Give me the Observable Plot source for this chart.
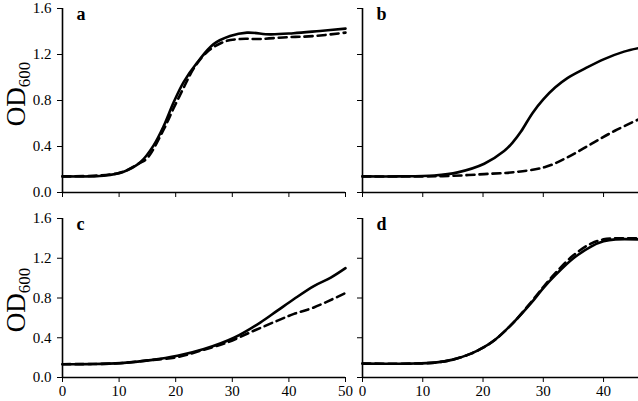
<!DOCTYPE html>
<html><head><meta charset="utf-8">
<script src="https://cdn.jsdelivr.net/npm/d3@7"></script>
<script src="https://cdn.jsdelivr.net/npm/@observablehq/plot@0.6"></script>
<style>
body{margin:0;background:#fff;}
#root{position:relative;width:638px;height:401px;overflow:hidden;font-family:"Liberation Serif",serif;background:#fff;}
.p{position:absolute;}
.ylab{position:absolute;font-size:27px;transform:rotate(-90deg);white-space:nowrap;line-height:1;}
.ylab sub{font-size:17px;vertical-align:-5px;}
</style></head><body><div id="root"></div>
<script>
// y ticks
const yTicks = [0, 0.4, 0.8, 1.2, 1.6];
const xTicksLeft = [0, 10, 20, 30, 40, 50];
const xTicksRight = [0, 10, 20, 30, 40];

// Panel a
const aSolidT = [0,5,7.3,10.8,13.8,16.1,17.9,19.6,21.4,23.8,26.7,29.6,32.6,36.7,40.8,45.5,50];
const aSolidOD = [0.14,0.14,0.145,0.18,0.265,0.41,0.58,0.78,0.96,1.13,1.29,1.36,1.39,1.375,1.385,1.405,1.425];
const aDashT = [0,10,13.8,15,17.9,19.6,21.4,23.2,25.5,28.5,31.4,34.9,39.6,44.3,50];
const aDashOD = [0.14,0.17,0.26,0.30,0.55,0.73,0.91,1.08,1.22,1.31,1.335,1.335,1.35,1.36,1.39];

// Panel b
const bSolidT = [0,6,11.9,15.8,20.2,23.5,25,26.3,28.2,30,32,34,36.8,40.1,43.4,45.8];
const bSolidOD = [0.14,0.14,0.148,0.175,0.25,0.36,0.44,0.53,0.69,0.81,0.915,0.995,1.075,1.16,1.225,1.255];
const bDashT = [0,10,15,20.2,25.2,30.2,34,37.9,41.8,45.8];
const bDashOD = [0.14,0.14,0.145,0.16,0.177,0.22,0.305,0.42,0.535,0.635];

// Panel c
const cSolidT = [0,5,10.3,15.6,20.3,25,30.3,35,37.9,40.9,44.4,47.4,50];
const cSolidOD = [0.134,0.135,0.145,0.175,0.218,0.286,0.40,0.555,0.67,0.79,0.92,1.005,1.1];
const cDashT = [0,10,15,20.3,24.4,29.1,33.8,37.9,40.9,44.4,50];
const cDashOD = [0.134,0.143,0.172,0.205,0.27,0.353,0.47,0.57,0.64,0.705,0.85];

// Panel d
const dSolidT = [0,8,12,15,18,20,22,25,28,30,32,35,38,40,42,45.8];
const dSolidOD = [0.14,0.14,0.15,0.18,0.24,0.30,0.38,0.55,0.75,0.90,1.03,1.20,1.32,1.37,1.39,1.39];
const dDashT = [0,8,12,15,18,20,22,25,28,30,32,35,38,40,42,45.8];
const dDashOD = [0.14,0.14,0.15,0.18,0.24,0.30,0.38,0.55,0.76,0.91,1.05,1.23,1.35,1.39,1.40,1.40];

const letters = ["a", "b", "c", "d"];

const toRows = (t, v) => t.map((x, i) => ({t: x, od: v[i]}));

function panel(o) {
  const svg = Plot.plot({
    width: o.width, height: o.height,
    marginLeft: o.mL, marginRight: o.mR, marginTop: o.mT, marginBottom: o.mB,
    style: {fontFamily: "'Liberation Serif', serif", fontSize: "15px", color: "#000", background: "transparent", overflow: "visible"},
    x: {domain: [0, o.xMax], ticks: o.xTicks, tickSize: 5, tickPadding: 3, label: null,
        tickFormat: o.showX ? (d => String(d)) : (() => "")},
    y: {domain: [0, 1.6], ticks: yTicks, tickSize: 5, tickPadding: 6, label: null,
        tickFormat: o.showY ? (d => d.toFixed(1)) : (() => "")},
    marks: [
      Plot.ruleY([0], {stroke: "#000", strokeWidth: 1.6}),
      Plot.ruleX([0], {stroke: "#000", strokeWidth: 1.6}),
      Plot.line(toRows(o.st, o.sv), {x: "t", y: "od", curve: "catmull-rom", stroke: "#000", strokeWidth: 2.6}),
      Plot.line(toRows(o.dt, o.dv), {x: "t", y: "od", curve: "catmull-rom", stroke: "#000", strokeWidth: 2.6, strokeDasharray: "8,5"}),
      Plot.text([o.letter], {text: d => d, frameAnchor: "top-left", dx: 14, dy: -1, fontWeight: "bold", fontSize: 18})
    ]
  });
  svg.classList.add("p");
  svg.style.left = o.left + "px";
  svg.style.top = o.top + "px";
  document.getElementById("root").appendChild(svg);
}

panel({left: 0, top: 0, width: 350, height: 200, mL: 62, mR: 5, mT: 8, mB: 8,
  xMax: 50, xTicks: xTicksLeft, showX: false, showY: true, letter: letters[0],
  st: aSolidT, sv: aSolidOD, dt: aDashT, dv: aDashOD});
panel({left: 350, top: 0, width: 288, height: 200, mL: 12, mR: 0, mT: 8, mB: 8,
  xMax: 45.8, xTicks: xTicksRight, showX: false, showY: false, letter: letters[1],
  st: bSolidT, sv: bSolidOD, dt: bDashT, dv: bDashOD});
panel({left: 0, top: 200, width: 350, height: 201, mL: 62, mR: 5, mT: 18, mB: 24,
  xMax: 50, xTicks: xTicksLeft, showX: true, showY: true, letter: letters[2],
  st: cSolidT, sv: cSolidOD, dt: cDashT, dv: cDashOD});
panel({left: 350, top: 200, width: 288, height: 201, mL: 12, mR: 0, mT: 18, mB: 24,
  xMax: 45.8, xTicks: xTicksRight, showX: true, showY: false, letter: letters[3],
  st: dSolidT, sv: dSolidOD, dt: dDashT, dv: dDashOD});

function ylab(cx, cy) {
  const d = document.createElement("div");
  d.className = "ylab";
  d.innerHTML = "OD<sub>600</sub>";
  document.getElementById("root").appendChild(d);
  const w = d.offsetWidth, h = d.offsetHeight;
  d.style.left = (cx - w / 2) + "px";
  d.style.top = (cy - h / 2) + "px";
}
ylab(18, 94);
ylab(18, 300);
</script></body></html>
